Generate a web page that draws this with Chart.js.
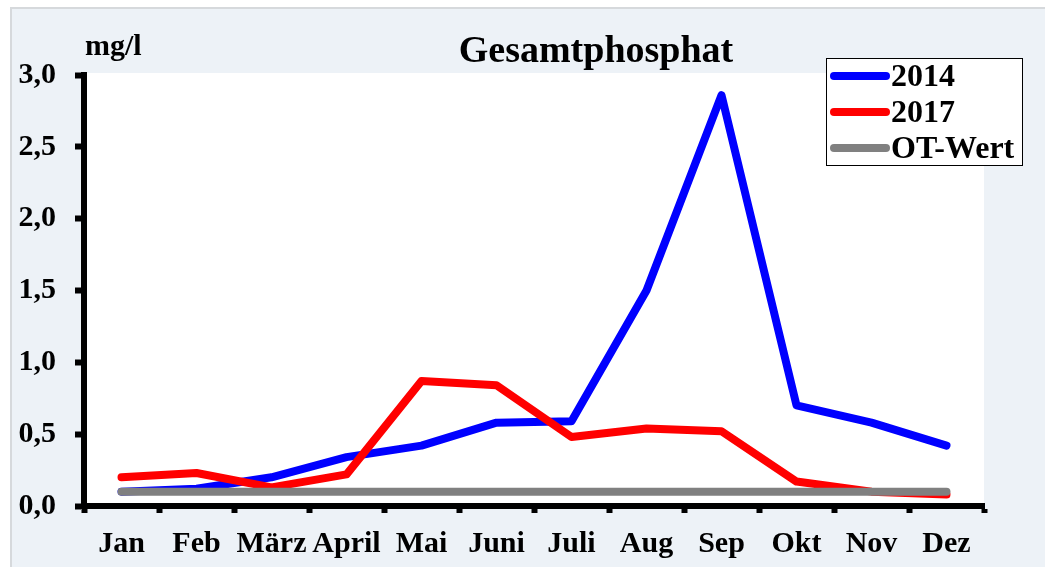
<!DOCTYPE html>
<html>
<head>
<meta charset="utf-8">
<script src="https://cdn.jsdelivr.net/npm/chart.js@4.4.1/dist/chart.umd.min.js"></script>
<style>
  html, body { margin: 0; padding: 0; background: #ffffff; }
  #wrap { position: relative; width: 1045px; height: 567px; overflow: hidden; }
  #bg { position: absolute; left: 10px; top: 7px; right: 0; bottom: 0;
        background: #edf2f7; border-left: 2px solid #d6d9dc; border-top: 2px solid #d6d9dc; }
  canvas { position: absolute; left: 0; top: 0; }
</style>
</head>
<body>
<div id="wrap">
  <div id="bg"></div>
  <canvas id="c" width="1045" height="567"></canvas>
</div>
<script>
const months = ['Jan', 'Feb', 'März', 'April', 'Mai', 'Juni', 'Juli', 'Aug', 'Sep', 'Okt', 'Nov', 'Dez'];
const values2014 = [0.10, 0.12, 0.20, 0.34, 0.42, 0.58, 0.59, 1.50, 2.86, 0.70, 0.58, 0.42];
const values2017 = [0.20, 0.23, 0.13, 0.22, 0.87, 0.84, 0.48, 0.54, 0.52, 0.17, 0.10, 0.08];
const otWert = [0.1, 0.1, 0.1, 0.1, 0.1, 0.1, 0.1, 0.1, 0.1, 0.1, 0.1, 0.1];
const yTicks = [0, 0.5, 1.0, 1.5, 2.0, 2.5, 3.0];
const titleText = 'Gesamtphosphat';
const unitText = 'mg/l';

const SERIF = '"Liberation Serif", "Times New Roman", serif';

const decor = {
  id: 'decor',
  beforeDraw(chart) {
    const { ctx, chartArea: a } = chart;
    ctx.save();
    ctx.fillStyle = '#ffffff';
    ctx.fillRect(a.left, a.top - 2, a.right - a.left, a.bottom - a.top + 2);
    ctx.restore();
  },
  afterDraw(chart) {
    const { ctx } = chart;
    ctx.save();
    ctx.fillStyle = '#000';
    ctx.textBaseline = 'alphabetic';
    ctx.font = 'bold 38px ' + SERIF;
    ctx.textAlign = 'center';
    ctx.fillText(titleText, 596, 62);
    ctx.font = 'bold 30px ' + SERIF;
    ctx.textAlign = 'left';
    ctx.fillText(unitText, 85, 55);

    // legend
    const lx = 826, ly = 58, lw = 197, lh = 108;
    ctx.fillStyle = '#ffffff';
    ctx.fillRect(lx, ly, lw, lh);
    ctx.strokeStyle = '#000';
    ctx.lineWidth = 1;
    ctx.strokeRect(lx + 0.5, ly + 0.5, lw - 1, lh - 1);
    const rows = [76, 112, 148];
    const order = [0, 1, 2];
    ctx.font = 'bold 32px ' + SERIF;
    order.forEach((di, i) => {
      const ds = chart.data.datasets[di];
      ctx.strokeStyle = ds.borderColor;
      ctx.lineWidth = 8;
      ctx.lineCap = 'round';
      ctx.beginPath();
      ctx.moveTo(834, rows[i]);
      ctx.lineTo(886, rows[i]);
      ctx.stroke();
      ctx.fillStyle = '#000';
      ctx.fillText(ds.label, 891, rows[i] + 10);
    });
    ctx.restore();
  }
};

const lineStyle = { borderWidth: 8, pointRadius: 0, pointHoverRadius: 0, tension: 0,
  borderCapStyle: 'round', borderJoinStyle: 'round', fill: false };

new Chart(document.getElementById('c'), {
  type: 'line',
  data: {
    labels: months,
    datasets: [
      Object.assign({ label: '2014', data: values2014, borderColor: '#0000ff', backgroundColor: '#0000ff', order: 2 }, lineStyle),
      Object.assign({ label: '2017', data: values2017, borderColor: '#ff0000', backgroundColor: '#ff0000', order: 1 }, lineStyle),
      Object.assign({ label: 'OT-Wert', data: otWert, borderColor: '#808080', backgroundColor: '#808080', order: 0 }, lineStyle)
    ]
  },
  options: {
    responsive: false,
    animation: false,
    events: [],
    layout: { padding: { left: 0, top: 75, right: 61, bottom: 0 } },
    plugins: { legend: { display: false }, title: { display: false }, tooltip: { enabled: false } },
    scales: {
      x: {
        type: 'category',
        offset: true,
        grid: { offset: true, drawOnChartArea: false, drawTicks: true, tickLength: 7, tickWidth: 6, tickColor: '#000', color: '#000' },
        border: { display: true, width: 6, color: '#000' },
        ticks: { autoSkip: false, maxRotation: 0, minRotation: 0, color: '#000', padding: 13,
                 font: { family: SERIF, size: 30, weight: 'bold' } },
        afterFit(scale) { scale.height = 61; }
      },
      y: {
        min: 0, max: 3,
        afterBuildTicks(scale) { scale.ticks = yTicks.map(v => ({ value: v })); },
        grid: { drawOnChartArea: false, drawTicks: true, tickLength: 9, tickWidth: 6, tickColor: '#000', color: '#000' },
        border: { display: true, width: 6, color: '#000' },
        ticks: { color: '#000', padding: 19,
                 font: { family: SERIF, size: 30, weight: 'bold' },
                 callback: v => Number(v).toFixed(1).replace('.', ',') },
        afterFit(scale) { scale.width = 84; }
      }
    }
  },
  plugins: [decor]
});
</script>
</body>
</html>
